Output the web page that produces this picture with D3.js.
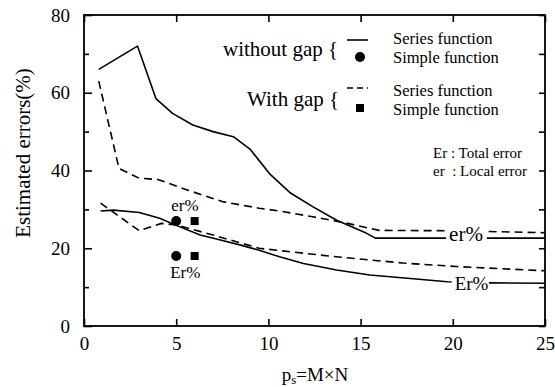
<!DOCTYPE html>
<html><head><meta charset="utf-8">
<script src="https://cdn.jsdelivr.net/npm/d3@7"></script>
<style>body{margin:0;background:#fff}svg{display:block}text{font-family:"Liberation Serif","Times New Roman",serif;fill:#000}</style>
</head><body>
<svg id="c" width="555" height="387"></svg>
<script>
// ---- data ----
const xTicks = [0, 5, 10, 15, 20, 25];
const yTicks = [0, 20, 40, 60, 80];
const yMinorTicks = [10, 30, 50, 70];

// without gap, series function, local error (er)
const noGapErX = [0.8, 2.9, 3.9, 4.8, 5.9, 7.0, 8.1, 9.0, 10.1, 11.2, 12.4, 13.7, 15.3, 15.8, 19.7, 22.0, 25.0];
const noGapErY = [66, 72, 58.5, 54.7, 51.7, 50, 48.7, 45.5, 39, 34.2, 30.7, 27.2, 23.9, 22.6, 22.6, 22.6, 22.6];
// with gap, series function, local error (er)
const gapErX = [0.8, 1.9, 3.0, 4.0, 5.6, 7.5, 9.5, 10.6, 12.4, 14.2, 16.0, 20.0, 25.0];
const gapErY = [63, 40.5, 38, 37.7, 35, 32, 30.3, 29.6, 28.1, 26.5, 24.6, 24.5, 24];
// without gap, series function, total error (Er)
const noGapTotX = [0.9, 1.6, 3.0, 4.1, 5.2, 6.3, 7.4, 8.5, 9.5, 10.6, 11.9, 13.7, 15.5, 17.7, 19.7, 22.0, 25.0];
const noGapTotY = [29.6, 29.8, 29.2, 27.7, 25.5, 23.4, 22.1, 20.8, 19.5, 17.8, 16.1, 14.4, 13.1, 12.2, 11.4, 11.1, 11.0];
// with gap, series function, total error (Er)
const gapTotX = [0.9, 3.0, 4.2, 5.0, 7.0, 9.5, 10.6, 13.7, 17.3, 20.2, 25.0];
const gapTotY = [31.6, 24.5, 26.4, 26.0, 23.4, 20.0, 19.4, 17.8, 16.2, 15.3, 14.2];
// simple function points
const simpleNoGap = [{x: 5, y: 27}, {x: 5, y: 18}];
const simpleGap = [{x: 6, y: 27}, {x: 6, y: 18}];

// ---- drawing ----
const svg = d3.select("#c");
const x = d3.scaleLinear().domain([0, 25]).range([84, 545]);
const y = d3.scaleLinear().domain([0, 80]).range([326, 15]);
const zip = (xs, ys) => xs.map((v, i) => ({x: v, y: ys[i]}));
const line = d3.line().x(d => x(d.x)).y(d => y(d.y)).curve(d3.curveLinear);

function series(xs, ys, dashed) {
  svg.append("path").datum(zip(xs, ys)).attr("d", line)
    .attr("fill", "none").attr("stroke", "#000").attr("stroke-width", 1.6)
    .attr("stroke-linejoin", "round")
    .attr("stroke-dasharray", dashed ? "8,5" : null);
}
series(noGapErX, noGapErY, false);
series(gapErX, gapErY, true);
series(noGapTotX, noGapTotY, false);
series(gapTotX, gapTotY, true);

// simple function markers
svg.selectAll(".pc").data(simpleNoGap).join("circle")
  .attr("cx", d => x(d.x)).attr("cy", d => y(d.y)).attr("r", 5).attr("fill", "#000");
svg.selectAll(".ps").data(simpleGap).join("rect")
  .attr("x", d => x(d.x) - 4).attr("y", d => y(d.y) - 4).attr("width", 8).attr("height", 8).attr("fill", "#000");

// in-plot labels
function label(txt, px, py, size, bg) {
  if (bg) svg.append("rect").attr("x", px - 3).attr("y", py - size * 0.72).attr("width", size * 1.7 + 5).attr("height", size * 0.95).attr("fill", "#fff");
  svg.append("text").attr("x", px).attr("y", py).attr("font-size", size).text(txt);
}
label("er%", x(5) - 5, y(27) - 10, 17, false);
label("Er%", x(5) - 6, y(18) + 22, 17, false);
label("er%", x(19.8), y(22.6) + 3, 21, true);
label("Er%", x(20.1), y(13.0) + 15, 19, true);

// frame
const X0 = x(0), X1 = x(25), Y0 = y(0), Y1 = y(80);
svg.append("rect").attr("x", X0).attr("y", Y1).attr("width", X1 - X0).attr("height", Y0 - Y1)
  .attr("fill", "none").attr("stroke", "#000").attr("stroke-width", 1.8);

// axes (ticks inward)
const gB = svg.append("g").attr("transform", `translate(0,${Y0})`)
  .call(d3.axisBottom(x).tickValues(xTicks).tickSizeInner(-7).tickSizeOuter(0).tickPadding(11));
const gT = svg.append("g").attr("transform", `translate(0,${Y1})`)
  .call(d3.axisTop(x).tickValues(xTicks).tickSizeInner(-7).tickSizeOuter(0).tickFormat(""));
const gL = svg.append("g").attr("transform", `translate(${X0},0)`)
  .call(d3.axisLeft(y).tickValues(yTicks).tickSizeInner(-8).tickSizeOuter(0).tickPadding(14));
const gLm = svg.append("g").attr("transform", `translate(${X0},0)`)
  .call(d3.axisLeft(y).tickValues(yMinorTicks).tickSizeInner(-5).tickSizeOuter(0).tickFormat(""));
const gR = svg.append("g").attr("transform", `translate(${X1},0)`)
  .call(d3.axisRight(y).tickValues(yTicks.concat(yMinorTicks)).tickSizeInner(-6).tickSizeOuter(0).tickFormat(""));
[gB, gT, gL, gLm, gR].forEach(g => {
  g.attr("font-family", null);
  g.select(".domain").remove();
  g.selectAll("line").attr("stroke", "#000").attr("stroke-width", 1.6);
  g.selectAll("text").attr("font-size", 19).attr("fill", "#000");
});

// axis titles
svg.append("text").attr("transform", "translate(30,153) rotate(-90)").attr("text-anchor", "middle")
  .attr("font-size", 21).text("Estimated errors(%)");
const xt = svg.append("text").attr("x", 315).attr("y", 381).attr("text-anchor", "middle").attr("font-size", 19);
xt.append("tspan").text("p");
xt.append("tspan").attr("font-size", 13).attr("dy", 3).text("s");
xt.append("tspan").attr("dy", -3).text("=M×N");

// legend
svg.append("text").attr("x", 223).attr("y", 56).attr("font-size", 21).text("without gap {");
svg.append("text").attr("x", 247).attr("y", 106).attr("font-size", 21).text("With gap {");
svg.append("line").attr("x1", 347).attr("x2", 368).attr("y1", 40).attr("y2", 40).attr("stroke", "#000").attr("stroke-width", 1.6);
svg.append("circle").attr("cx", 360).attr("cy", 57).attr("r", 5).attr("fill", "#000");
svg.append("line").attr("x1", 347).attr("x2", 368).attr("y1", 88).attr("y2", 88).attr("stroke", "#000").attr("stroke-width", 1.6).attr("stroke-dasharray", "6,4");
svg.append("rect").attr("x", 356).attr("y", 104).attr("width", 8).attr("height", 8).attr("fill", "#000");
const lt = [["Series function", 393, 44], ["Simple function", 393, 63], ["Series function", 393, 96], ["Simple function", 393, 115]];
lt.forEach(d => svg.append("text").attr("x", d[1]).attr("y", d[2]).attr("font-size", 16.5).text(d[0]));
svg.append("text").attr("x", 433).attr("y", 158).attr("font-size", 15).text("Er : Total error");
svg.append("text").attr("x", 433).attr("y", 176).attr("font-size", 15).attr("xml:space", "preserve").text("er  : Local error");
</script>
</body></html>
